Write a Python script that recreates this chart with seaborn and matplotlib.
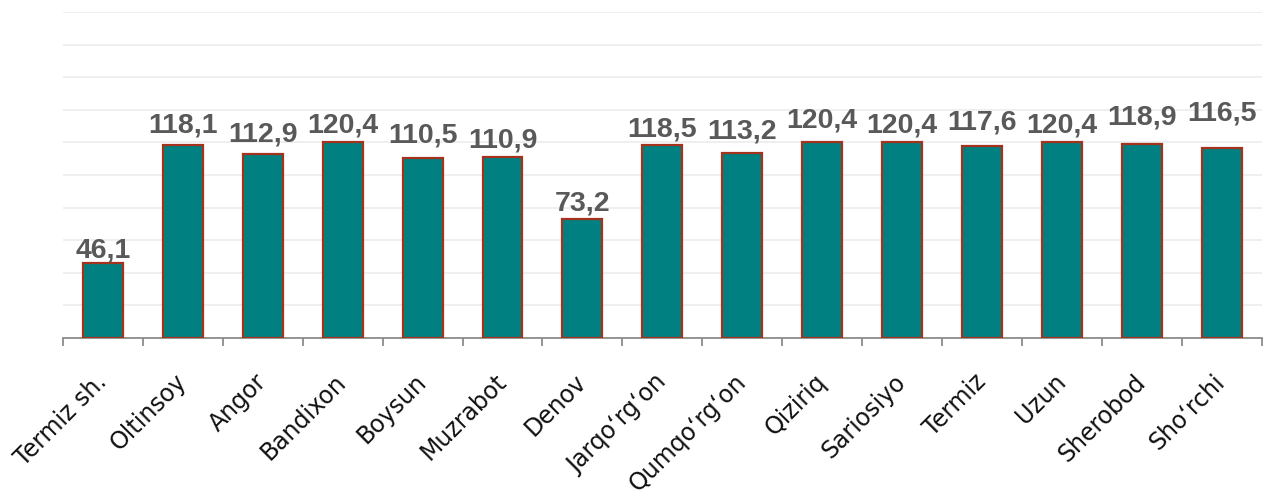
import matplotlib
matplotlib.use("Agg")
import matplotlib.pyplot as plt
import numpy as np
import pandas as pd
import seaborn as sns

districts = ["Termiz sh.", "Oltinsoy", "Angor", "Bandixon", "Boysun", "Muzrabot",
             "Denov", "Jarqo\u2018rg\u2018on", "Qumqo\u2018rg\u2018on", "Qiziriq",
             "Sariosiyo", "Termiz", "Uzun", "Sherobod", "Sho\u2018rchi"]
values = [46.1, 118.1, 112.9, 120.4, 110.5, 110.9, 73.2, 118.5, 113.2,
          120.4, 120.4, 117.6, 120.4, 118.9, 116.5]
value_labels = ["46,1", "118,1", "112,9", "120,4", "110,5", "110,9", "73,2",
                "118,5", "113,2", "120,4", "120,4", "117,6", "120,4", "118,9", "116,5"]

sns.set_theme(style="white")
plt.rcParams["font.family"] = ["Liberation Sans", "DejaVu Sans"]

df = pd.DataFrame({"district": districts, "value": values})

fig = plt.figure(figsize=(12.68, 5.0), dpi=100)
ax = fig.add_axes([0.0497, 0.324, 0.9453, 0.652])

sns.barplot(data=df, x="district", y="value", ax=ax, color="#008080",
            saturation=1, width=0.5, edgecolor="#a5321c", linewidth=1.6, zorder=3)

ax.set_ylim(0, 200)
ax.set_xlim(-0.5, len(districts) - 0.5)
ax.set_yticks(np.arange(0, 201, 20))
ax.yaxis.grid(True, color="#ececec", linewidth=1.2, zorder=0)
ax.set_yticklabels([])
ax.tick_params(axis="y", length=0)
ax.set_xlabel("")
ax.set_ylabel("")

for side in ("left", "right", "top"):
    ax.spines[side].set_visible(False)
ax.spines["bottom"].set_color("#8c8c8c")
ax.spines["bottom"].set_linewidth(1.3)

# ticks sit on category boundaries
ax.set_xticks(np.arange(-0.5, len(districts), 1.0), minor=True)
ax.tick_params(axis="x", which="minor", bottom=True, length=6, width=1.3,
               color="#8c8c8c", direction="out")
ax.set_xticks(range(len(districts)))
ax.tick_params(axis="x", which="major", bottom=False, length=0, pad=29)
ax.set_xticklabels(districts, rotation=45, ha="right", va="center",
                   rotation_mode="anchor", fontsize=17, color="#111111",
                   family=["DejaVu Sans"])

# gap in pixels between each bar top and its label baseline
label_gap_px = [5, 13, 12, 9, 15, 10, 8, 8, 15, 14, 9, 17, 9, 20, 28]
for i, (v, lab) in enumerate(zip(values, value_labels)):
    ax.annotate(lab, (i, v), xytext=(0, label_gap_px[i] * 0.72), textcoords="offset points",
                ha="center", va="baseline", fontsize=20.5, fontweight="bold",
                color="#595959", zorder=4)

fig.savefig("out.png", dpi=100)
